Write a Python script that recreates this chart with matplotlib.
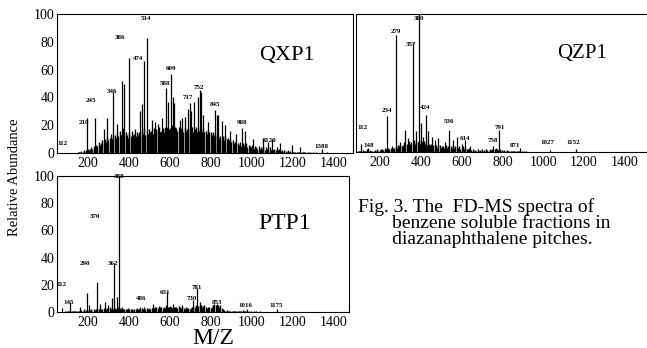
import numpy as np
import matplotlib.pyplot as plt

plt.rcParams['font.family'] = ['Liberation Serif', 'DejaVu Serif']

# ---- QXP1 ----
qxp_bg_start, qxp_bg_step = 150, 6
qxp_bg = [
    1, 0.5, 1, 1.5, 1, 2, 1, 2, 3, 2,
    3, 4, 3, 5, 4, 6, 5, 8, 6, 7,
    9, 7, 10, 8, 12, 9, 11, 14, 10, 12,
    13, 11, 15, 12, 16, 13, 14, 18, 12, 15,
    13, 11, 15, 12, 16, 13, 14, 12, 15, 13,
    15, 12, 16, 14, 18, 13, 15, 14, 17, 15,
    16, 14, 18, 15, 17, 15, 19, 15, 16, 18,
    15, 19, 16, 19, 17, 18, 15, 20, 17, 19,
    18, 16, 19, 15, 18, 17, 15, 19, 16, 17,
    15, 18, 16, 19, 15, 17, 19, 15, 18, 16,
    17, 15, 18, 15, 16, 14, 17, 15, 15, 13,
    15, 12, 14, 12, 13, 11, 12, 10, 12, 9,
    12, 10, 11, 9, 10, 8, 9, 7, 8, 6,
    7, 6, 8, 5, 7, 6, 5, 7, 4, 6,
    5, 4, 6, 3, 5, 4, 3, 5, 3, 4,
    3, 5, 2, 4, 3, 2, 4, 2, 3, 2,
    3, 2, 4, 2, 3, 1.5, 2, 1, 2, 1.5,
    1, 2, 1, 1.5, 0.5, 1, 1, 0.5, 1, 0.5,
    0.5, 1, 0.5, 0.5, 1, 0.5, 0.3, 0.5, 0.3, 0.5,
    0.3, 0.5, 0.3, 0.2, 0.5, 0.3, 0.2, 0.3, 0.2, 0.5,
    0.3, 0.2, 0.3, 0.5, 0.2, 0.3, 0.2, 0.3, 0.2,
]
qxp_mz = [195, 234, 278, 293, 322, 341, 366, 376, 400, 429,
          454, 463, 473, 488, 512, 527, 541, 561, 580, 590,
          605, 615, 620, 649, 659, 673, 688, 698, 702, 717,
          737, 746, 751, 761, 785, 820, 829, 834, 854, 868,
          893, 922, 951, 966, 1005, 1054, 1078, 1098, 1137, 1195,
          1234, 1341]
qxp_h = [25, 25, 17, 25, 44, 21, 52, 50, 68, 17,
         30, 35, 66, 83, 24, 22, 21, 25, 47, 37,
         57, 40, 36, 24, 25, 26, 32, 36, 30, 37,
         40, 45, 44, 27, 22, 31, 27, 27, 23, 20,
         16, 14, 18, 16, 10, 11, 8, 10, 7, 6,
         4, 3]
qxp_lab = ["112", "210", "245", "346", "386", "474", "514", "588", "609",
           "717", "752", "845", "988", "1120", "1388"]
qxp_lab_x = [78, 180, 215, 317, 356, 444, 483, 576, 605, 688, 741, 820, 951, 1083, 1341]
qxp_lab_y = [7, 22, 38, 44, 83, 68, 97, 50, 61, 40, 47, 35, 22, 9, 5]

# ---- QZP1 ----
qzp_bg_start, qzp_bg_step = 90, 6
qzp_bg = [
    1, 0.5, 1, 0.5, 1.5, 1, 0.5, 1, 2, 1,
    1.5, 1, 0.5, 1, 1.5, 1, 2, 1, 1.5, 2,
    2, 1.5, 3, 2, 2.5, 3, 2, 3, 2.5, 3,
    3, 4, 3, 5, 4, 6, 4, 5, 7, 5,
    6, 5, 8, 6, 7, 5, 9, 6, 8, 7,
    8, 6, 9, 7, 8, 6, 7, 5, 6, 5,
    6, 4, 5, 4, 5, 3, 4, 5, 3, 4,
    4, 3, 5, 3, 4, 3, 4, 3, 5, 3,
    4, 3, 3, 4, 2, 3, 4, 2, 3, 2,
    2, 3, 2, 1.5, 2, 1, 1.5, 1, 2, 1,
    1.5, 1, 2, 1.5, 1, 2, 1.5, 1, 2, 1.5,
    2, 1.5, 2, 3, 2, 1.5, 2, 1, 1.5, 1,
    1.5, 1, 1.5, 1, 1, 0.5, 1, 1, 0.5, 1,
    1, 0.5, 1, 0.5, 0.5, 0.3, 0.5, 0.3, 0.5, 0.3,
    0.3, 0.2, 0.3, 0.2, 0.3, 0.2, 0.2, 0.3, 0.2, 0.2,
]
qzp_mz = [105, 141, 234, 259, 278, 298, 323, 337, 362, 376,
          391, 401, 411, 425, 435, 455, 470, 484, 519, 538,
          557, 576, 602, 617, 641, 754, 783, 886, 1033, 1160]
qzp_h = [6, 3, 26, 4, 85, 7, 16, 10, 79, 15,
         100, 21, 11, 27, 15, 11, 9, 10, 7, 16,
         9, 11, 6, 9, 4, 4, 16, 3, 1.5, 2]
qzp_lab = ["112", "148", "234", "279", "357", "380", "424", "536", "614",
           "758", "791", "871", "1027", "1152"]
qzp_lab_x = [112, 146, 234, 278, 352, 391, 420, 538, 617, 754, 788, 862, 1019, 1146]
qzp_lab_y = [18, 5, 30, 87, 78, 97, 32, 22, 10, 8, 18, 5, 7, 7]

# ---- PTP1 ----
ptp_bg_start, ptp_bg_step = 90, 6
ptp_bg = [
    0.5, 1, 0.5, 1, 1.5, 1, 0.5, 1, 1, 0.5,
    1, 0.5, 1, 1.5, 1, 2, 1, 1.5, 1, 2,
    1.5, 2, 1, 2.5, 1.5, 2, 3, 2, 1.5, 2.5,
    2, 3, 2.5, 2, 3, 2, 3.5, 2.5, 3, 2,
    3, 2.5, 3, 4, 3, 2.5, 3, 2, 2.5, 2,
    2, 3, 2, 2.5, 2, 1.5, 2.5, 2, 3, 2,
    2.5, 2, 3, 2, 3.5, 2.5, 3, 2, 3, 2.5,
    3, 4, 3, 3.5, 4, 3, 4.5, 3.5, 4, 3,
    4, 3, 5, 4, 3.5, 4.5, 4, 3, 4, 3.5,
    4, 3, 4.5, 3.5, 3, 4, 3, 2.5, 3.5, 3,
    3, 2.5, 3, 4, 3.5, 4, 5, 4, 4.5, 5,
    5, 4, 4.5, 5, 4, 3, 3.5, 4, 3, 4,
    5, 6, 5, 6, 5, 4, 5, 3, 2, 1.5,
    1, 1.5, 1, 0.5, 1, 0.5, 1, 0.5, 0.5, 1,
    0.5, 1, 0.5, 1, 1.5, 1, 0.5, 1, 0.5, 0.5,
    0.3, 0.5, 0.3, 0.5, 0.3, 0.5, 0.3, 0.2, 0.5, 0.3,
]
ptp_mz = [73, 112, 161, 195, 205, 244, 259, 283, 298, 317,
          327, 341, 351, 366, 454, 517, 585, 615, 659, 712,
          732, 746, 810, 829, 976, 1122]
ptp_h = [3, 7, 4, 14, 5, 22, 6, 7, 5, 10,
         36, 11, 100, 4, 4, 6, 15, 6, 5, 9,
         18, 7, 5, 4, 2, 2]
ptp_lab = ["112", "145", "290", "370", "362", "388", "486", "631", "730",
           "781", "853", "1016", "1175"]
ptp_lab_x = [73, 107, 185, 234, 322, 351, 458, 576, 707, 732, 829, 966, 1117]
ptp_lab_y = [20, 7, 36, 70, 36, 100, 10, 14, 10, 18, 7, 5, 5]

caption = ("Fig. 3. The  FD-MS spectra of\n"
           "       benzene soluble fractions in\n"
           "       diazanaphthalene pitches.")

xticks = [200, 400, 600, 800, 1000, 1200, 1400]
yticks = [0, 20, 40, 60, 80, 100]

W, H = 647, 348
fig = plt.figure(figsize=(W / 100, H / 100), dpi=100)
ax1 = fig.add_axes([57 / W, 1 - 153 / H, 296 / W, 139 / H])
ax2 = fig.add_axes([356 / W, 1 - 152 / H, 294 / W, 138 / H])
ax3 = fig.add_axes([57 / W, 1 - 312 / H, 292 / W, 136 / H])

panels = [
    (ax1, qxp_bg_start, qxp_bg_step, qxp_bg, qxp_mz, qxp_h, qxp_lab, qxp_lab_x, qxp_lab_y,
     (49, 1493), "QXP1", (0.777, 0.705), 16),
    (ax2, qzp_bg_start, qzp_bg_step, qzp_bg, qzp_mz, qzp_h, qzp_lab, qzp_lab_x, qzp_lab_y,
     (82, 1524), "QZP1", (0.769, 0.717), 15),
    (ax3, ptp_bg_start, ptp_bg_step, ptp_bg, ptp_mz, ptp_h, ptp_lab, ptp_lab_x, ptp_lab_y,
     (49, 1473), "PTP1", (0.78, 0.654), 17),
]

for ax, s0, ds, bg, mz, h, lab, lx, ly, xl, name, npos, nfs in panels:
    bg_x = s0 + ds * np.arange(len(bg))
    ax.vlines(bg_x, 0, bg, color="black", lw=1.0)
    ax.vlines(mz, 0, h, color="black", lw=0.9)
    for s, x, y in zip(lab, lx, ly):
        ax.text(x, y, s, ha="center", va="center", fontsize=5,
                fontweight="bold", clip_on=False)
    ax.set_xlim(*xl)
    ax.set_ylim(0, 100)
    ax.set_xticks(xticks)
    ax.set_yticks(yticks)
    ax.tick_params(length=0, labelsize=10)
    ax.tick_params(axis="x", pad=3)
    ax.tick_params(axis="y", pad=2)
    for sp in ax.spines.values():
        sp.set_linewidth(0.8)
    ax.text(npos[0], npos[1], name, transform=ax.transAxes, ha="center",
            va="center", fontsize=nfs)

ax2.set_yticklabels([])

fig.text(15 / W, 1 - 177 / H, "Relative Abundance", rotation=90,
         ha="center", va="center", fontsize=10.5)
fig.text(213 / W, 1 - 344 / H, "M/Z", ha="center", va="baseline", fontsize=17)

fig.text(358 / W, 1 - 198 / H, caption, ha="left", va="top",
         fontsize=14, linespacing=0.92)

fig.savefig("out.png", dpi=100)
